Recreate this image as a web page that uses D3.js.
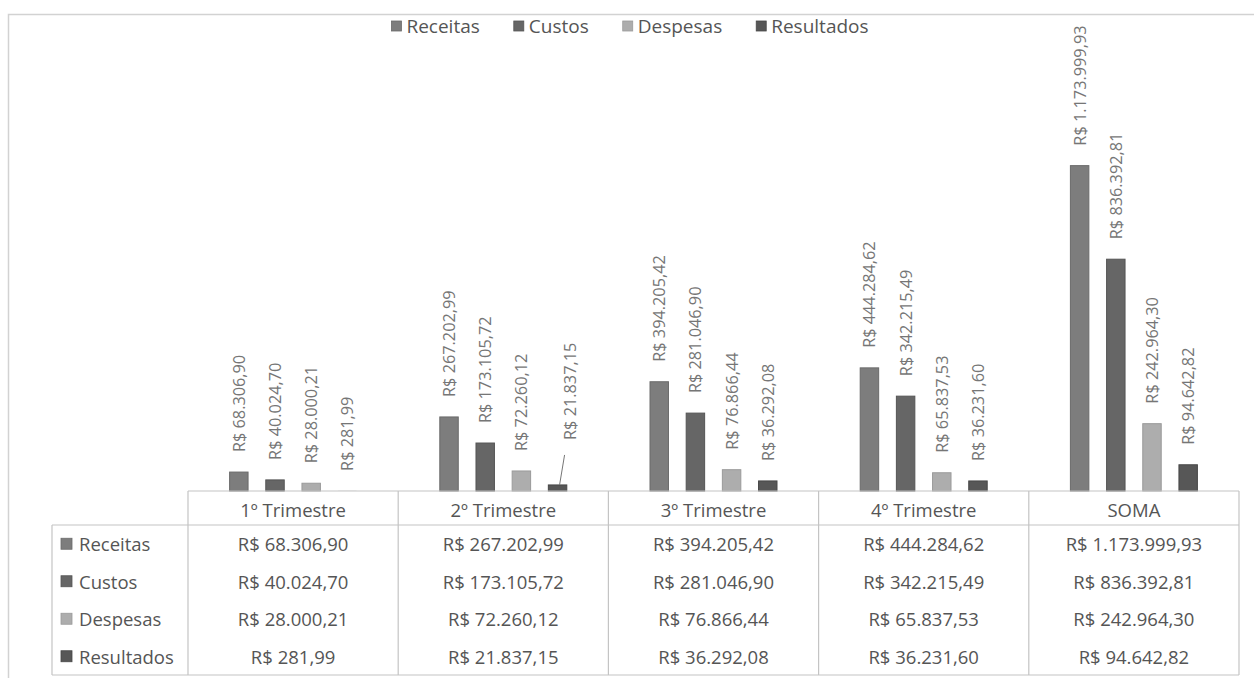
<!DOCTYPE html>
<html>
<head>
<meta charset="utf-8">
<script src="https://cdn.jsdelivr.net/npm/d3@7"></script>
<style>
  html, body { margin: 0; padding: 0; background: #fff; }
  svg { display: block; font-family: "Open Sans", "Noto Sans", sans-serif; }
</style>
</head>
<body>
<svg id="chart" width="1254" height="678"></svg>
<script>
// ---- data ----
const categories = ["1º Trimestre", "2º Trimestre", "3º Trimestre", "4º Trimestre", "SOMA"];
const seriesNames = ["Receitas", "Custos", "Despesas", "Resultados"];
const receitas   = [68306.90, 267202.99, 394205.42, 444284.62, 1173999.93];
const custos     = [40024.70, 173105.72, 281046.90, 342215.49, 836392.81];
const despesas   = [28000.21, 72260.12, 76866.44, 65837.53, 242964.30];
const resultados = [281.99, 21837.15, 36292.08, 36231.60, 94642.82];
const yMax = 1400000;

const seriesValues = { Receitas: receitas, Custos: custos, Despesas: despesas, Resultados: resultados };
const colors = { Receitas: "#7d7d7d", Custos: "#666666", Despesas: "#adadad", Resultados: "#575757" };
const strokes = { Receitas: "#6a6a6a", Custos: "#555555", Despesas: "#9a9a9a", Resultados: "#474747" };

const locale = d3.formatLocale({ decimal: ",", thousands: ".", grouping: [3], currency: ["R$ ", ""] });
const fmt = locale.format("$,.2f");

const svg = d3.select("#chart");

// outer frame
svg.append("rect").attr("x", 8.5).attr("y", 14.5).attr("width", 1260).attr("height", 700)
  .attr("fill", "none").attr("stroke", "#d2d2d2").attr("stroke-width", 1.5);

// layout
const tableLeft = 52, catLeft = 188, tableRight = 1239;
const baseY = 491, headerBottom = 525, tableBottom = 675;

const x0 = d3.scaleBand().domain(categories).range([catLeft, tableRight]).padding(0);
const x1 = d3.scaleBand().domain(seriesNames).range([0, x0.bandwidth()]).paddingInner(0.49).paddingOuter(1.15);
const y = d3.scaleLinear().domain([0, yMax]).range([baseY, 103]);

// bars
const barData = [];
categories.forEach((c, ci) => seriesNames.forEach(s => barData.push({ cat: c, s, v: seriesValues[s][ci] })));

svg.append("g").selectAll("rect").data(barData).join("rect")
  .attr("x", d => x0(d.cat) + x1(d.s))
  .attr("y", d => y(d.v))
  .attr("width", x1.bandwidth())
  .attr("height", d => baseY - y(d.v))
  .attr("fill", d => colors[d.s])
  .attr("stroke", d => (baseY - y(d.v)) > 1 ? strokes[d.s] : "none")
  .attr("stroke-width", 1);

// data labels (rotated)
const labelGap = 20, labelTopLimit = 25;
const moved = { cat: "2º Trimestre", s: "Resultados", dx: 12, dy: -25 };
const lg = svg.append("g");
barData.forEach(d => {
  const cx = x0(d.cat) + x1(d.s) + x1.bandwidth() / 2;
  const top = y(d.v);
  const t = lg.append("text")
    .attr("font-size", 16.3)
    .attr("fill", "#767676")
    .attr("text-anchor", "start")
    .attr("dominant-baseline", "central")
    .text(fmt(d.v));
  const len = t.node().getComputedTextLength();
  let bottom = top - labelGap;
  let lx = cx;
  const isMoved = d.cat === moved.cat && d.s === moved.s;
  if (isMoved) { bottom += moved.dy; lx += moved.dx; }
  if (bottom - len < labelTopLimit) bottom = labelTopLimit + len;
  t.attr("transform", `translate(${lx},${bottom}) rotate(-90)`);
  if (isMoved) {
    lg.append("line")
      .attr("x1", cx + 2).attr("y1", top)
      .attr("x2", lx - 5).attr("y2", bottom + 15)
      .attr("stroke", "#767676").attr("stroke-width", 1);
  }
});

// legend at top
const legend = svg.append("g");
const legendGap = 34;
let lxPos = 0;
seriesNames.forEach(s => {
  const g = legend.append("g");
  g.append("rect").attr("x", 0).attr("y", -5).attr("width", 10).attr("height", 10)
    .attr("fill", colors[s]).attr("stroke", strokes[s]).attr("stroke-width", 0.8);
  const t = g.append("text").attr("x", 15).attr("y", 0).attr("dominant-baseline", "central")
    .attr("font-size", 19).attr("fill", "#555").text(s);
  const w = 15 + t.node().getComputedTextLength();
  g.attr("transform", `translate(${lxPos},0)`);
  lxPos += w + legendGap;
});
const legendWidth = lxPos - legendGap;
legend.attr("transform", `translate(${630 - legendWidth / 2},26)`);

// table
const tbl = svg.append("g").attr("stroke", "#c4c4c4").attr("stroke-width", 1.2).attr("fill", "none");
tbl.append("line").attr("x1", catLeft).attr("x2", tableRight).attr("y1", baseY).attr("y2", baseY);
tbl.append("line").attr("x1", tableLeft).attr("x2", tableRight).attr("y1", headerBottom).attr("y2", headerBottom);
tbl.append("line").attr("x1", tableLeft).attr("x2", tableRight).attr("y1", tableBottom).attr("y2", tableBottom);
tbl.append("line").attr("x1", tableLeft).attr("x2", tableLeft).attr("y1", headerBottom).attr("y2", tableBottom);
categories.forEach(c => {
  tbl.append("line").attr("x1", x0(c)).attr("x2", x0(c)).attr("y1", baseY).attr("y2", tableBottom);
});
tbl.append("line").attr("x1", tableRight).attr("x2", tableRight).attr("y1", baseY).attr("y2", tableBottom);

const tt = svg.append("g").attr("font-size", 18.5).attr("fill", "#555");
categories.forEach(c => {
  tt.append("text").attr("x", x0(c) + x0.bandwidth() / 2).attr("y", (baseY + headerBottom) / 2 + 1)
    .attr("text-anchor", "middle").attr("dominant-baseline", "central").text(c);
});
const rowH = (tableBottom - headerBottom) / seriesNames.length;
seriesNames.forEach((s, si) => {
  const cy = headerBottom + rowH * (si + 0.5);
  tt.append("rect").attr("x", 61).attr("y", cy - 5.5).attr("width", 11).attr("height", 11)
    .attr("fill", colors[s]).attr("stroke", strokes[s]).attr("stroke-width", 0.8);
  tt.append("text").attr("x", 79).attr("y", cy).attr("dominant-baseline", "central").text(s);
  categories.forEach((c, ci) => {
    tt.append("text").attr("x", x0(c) + x0.bandwidth() / 2).attr("y", cy)
      .attr("text-anchor", "middle").attr("dominant-baseline", "central").text(fmt(seriesValues[s][ci]));
  });
});
</script>
</body>
</html>
